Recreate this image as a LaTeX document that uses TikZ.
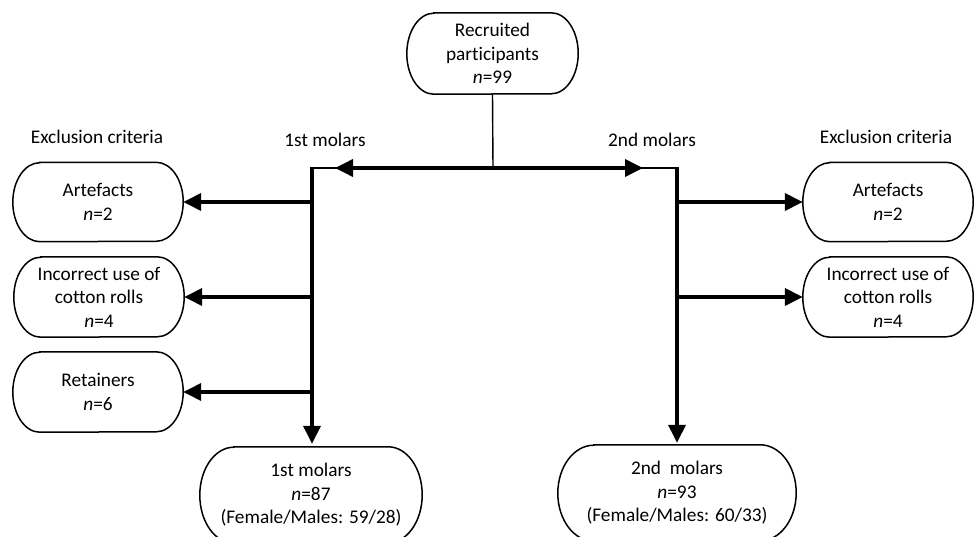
\documentclass[tikz,border=0pt]{standalone}
\usepackage{fontspec}
\setmainfont[Ligatures=NoCommon]{Carlito}
\usetikzlibrary{arrows.meta,calc}
\tikzset{
  box/.style={rectangle, draw=none, inner sep=0pt, align=center, font=\fontsize{19.3}{23.5}\selectfont},
  lbl/.style={inner sep=0pt, font=\fontsize{19.3}{23.5}\selectfont},
  boxline/.style={line width=1.5pt, black},
  thinline/.style={line width=1.4pt},
  thickarrow/.style={line width=3.6pt, -{Triangle[length=18pt,width=17pt]}},
  thickline/.style={line width=3.6pt}
}
% #1 node name, #2 horizontal radius, #3 vertical radius (half height)
\newcommand\stadiumbox[3]{%
  \draw[boxline] ($(#1.north west)+(#2,0)$) -- ($(#1.north east)+(-#2,0)$)
    arc[start angle=90, end angle=-90, x radius=#2, y radius=#3]
    -- ($(#1.south west)+(#2,0)$)
    arc[start angle=270, end angle=90, x radius=#2, y radius=#3] -- cycle;}
\begin{document}
\begin{tikzpicture}[x=1pt,y=1pt]
\clip (0,0) rectangle (976,536);
\fill[white] (0,0) rectangle (976,536);
% nodes
\node[box, minimum width=171pt, minimum height=81pt] (top) at (492.5,482.5) {Recruited\\participants\\{\itshape n}=99};
\node[box, minimum width=170pt, minimum height=79pt] (L1) at (98,334) {Artefacts\\{\itshape n}=2};
\node[box, minimum width=170pt, minimum height=80pt] (L2) at (99,239) {Incorrect use of\\cotton rolls\\{\itshape n}=4};
\node[box, minimum width=170pt, minimum height=80pt] (L3) at (98,144) {Retainers\\{\itshape n}=6};
\node[box, minimum width=170pt, minimum height=79pt] (R1) at (888,334) {Artefacts\\{\itshape n}=2};
\node[box, minimum width=170pt, minimum height=80pt] (R2) at (888,239) {Incorrect use of\\cotton rolls\\{\itshape n}=4};
\node[box, minimum width=222pt, minimum height=96pt] (B1) at (311,41) {1st molars\\{\itshape n}=87\\(Female/Males: 59/28)};
\node[box, minimum width=238pt, minimum height=96pt] (B2) at (677,43) {2nd\ \ molars\\{\itshape n}=93\\(Female/Males: 60/33)};
\stadiumbox{top}{27}{40.5}
\stadiumbox{L1}{27}{39.5}
\stadiumbox{L2}{27}{40}
\stadiumbox{L3}{27}{40}
\stadiumbox{R1}{27}{39.5}
\stadiumbox{R2}{27}{40}
\stadiumbox{B1}{34}{48}
\stadiumbox{B2}{36}{48}
% labels
\node[lbl] (exL) at (97,399) {Exclusion criteria};
\node[lbl] (exR) at (886,399) {Exclusion criteria};
\node[lbl] (m1) at (325,396) {1st molars};
\node[lbl] (m2) at (652,396) {2nd molars};
% junction coordinates
\coordinate (jc) at (493,368);
\coordinate (jL) at (312,368);
\coordinate (jR) at (677,368);
\coordinate (aL) at (335,368);
\coordinate (aR) at (643,368);
% connectors
\draw[thinline] (top.south) -- (jc);
\draw[thinline] (jL) -- (jR);
\draw[thickline] (jc) -- ($(aL)+(12,0)$);
\draw[thickline] (jc) -- ($(aR)+(-12,0)$);
\draw[thickarrow] ($(jc)+(-1,0)$) -- (aL);
\draw[thickarrow] ($(jc)+(1,0)$) -- (aR);
\draw[thickline] ($(jL)+(0,0.7)$) -- (jL |- L3.east);
\draw[thickarrow, shorten >=3pt] (jL |- L3.east) -- (B1.north -| jL);
\draw[thickline] ($(jR)+(0,0.7)$) -- (jR |- R2.west);
\draw[thickarrow, shorten >=2pt] (jR |- R2.west) -- (B2.north -| jR);
\draw[thickarrow] (jL |- L1.east) -- (L1.east);
\draw[thickarrow] (jL |- L2.east) -- (L2.east);
\draw[thickarrow] (jL |- L3.east) -- (L3.east);
\draw[thickarrow] (jR |- R1.west) -- (R1.west);
\draw[thickarrow] (jR |- R2.west) -- (R2.west);
\end{tikzpicture}
\end{document}
